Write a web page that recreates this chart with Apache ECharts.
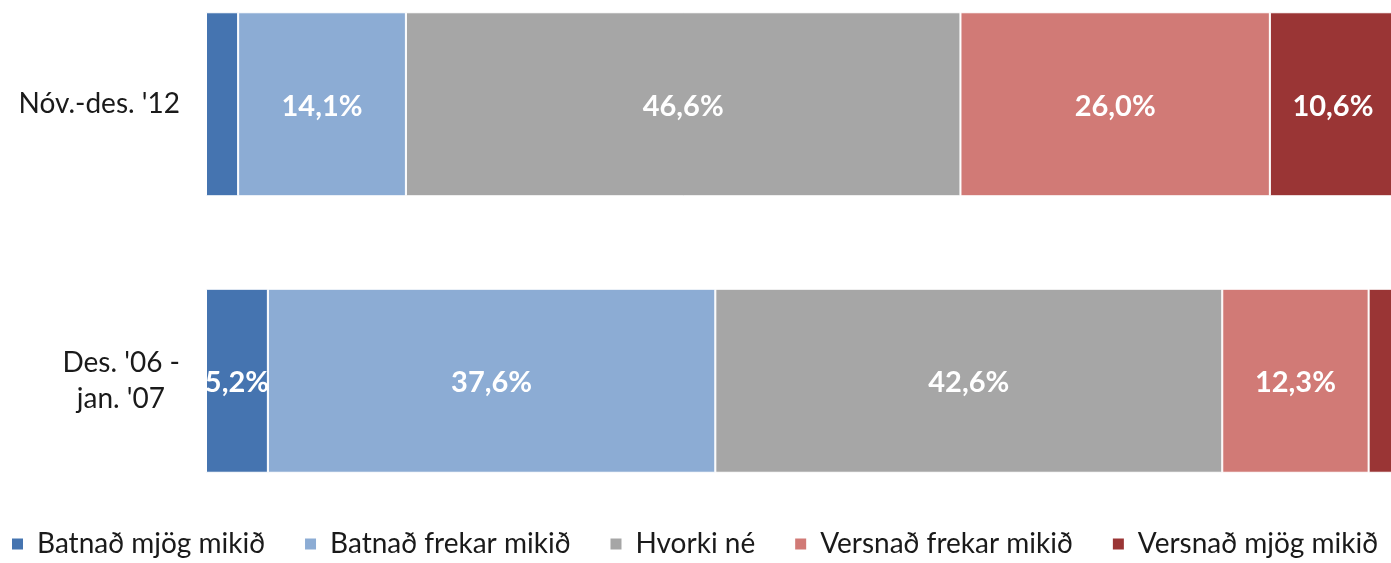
<!DOCTYPE html>
<html>
<head>
<meta charset="utf-8">
<script src="https://cdn.jsdelivr.net/npm/echarts@6/dist/echarts.min.js"></script>
<style>
  html, body { margin: 0; padding: 0; background: #fff; }
  #chart { width: 1391px; height: 563px; }
</style>
</head>
<body>
<div id="chart"></div>
<script>
// categories, bottom to top (category axis on y runs upward)
var categories = ["Des. '06 - jan. '07", "Nóv.-des. '12"];

var seriesNames = ['Batnað mjög mikið', 'Batnað frekar mikið', 'Hvorki né', 'Versnað frekar mikið', 'Versnað mjög mikið'];
var batnadMjog = [5.2, 2.7];
var batnadFrekar = [37.6, 14.1];
var hvorki = [42.6, 46.6];
var versnadFrekar = [12.3, 26.0];
var versnadMjog = [2.3, 10.6];

var colors = ['#4574b0', '#8cacd4', '#a6a6a6', '#d17a76', '#9a3535'];

var chart = echarts.init(document.getElementById('chart'));

function makeSeries(name, data) {
    return {
        name: name,
        type: 'bar',
        stack: 'total',
        barWidth: 184,
        data: data,
        itemStyle: { borderColor: '#ffffff', borderWidth: 1 },
        label: {
            show: true,
            position: 'inside',
            offset: [0, 2],
            color: '#ffffff',
            fontFamily: 'Lato',
            fontWeight: 'bold',
            fontSize: 29,
            formatter: function (p) {
                if (p.value < 5) return '';
                return p.value.toFixed(1).replace('.', ',') + '%';
            }
        }
    };
}

var option = {
    color: colors,
    animation: false,
    grid: { left: 206, right: -5, top: -34, bottom: 44, outerBoundsMode: 'none' },
    xAxis: {
        type: 'value',
        min: 0,
        max: 100,
        show: false
    },
    yAxis: {
        type: 'category',
        data: categories,
        axisLine: { show: false },
        axisTick: { show: false },
        axisLabel: {
            color: '#1a1a1a',
            fontFamily: 'Lato',
            fontSize: 28,
            margin: 26,
            align: 'right',
            formatter: function (v) {
                if (v.indexOf(' - ') > 0) {
                    var parts = v.split(' - ');
                    return '{a|' + parts[0] + ' -}\n{b|' + parts[1] + '}';
                }
                return '{a|' + v + '}';
            },
            rich: {
                a: { fontFamily: 'Lato', fontSize: 28, color: '#1a1a1a', lineHeight: 36 },
                b: { fontFamily: 'Lato', fontSize: 28, color: '#1a1a1a', lineHeight: 36, padding: [0, 15, 0, 0] }
            }
        }
    },
    legend: {
        bottom: 5,
        left: 10,
        right: 0,
        padding: 0,
        itemWidth: 13,
        itemHeight: 13,
        itemGap: 38,
        icon: 'rect',
        textStyle: { fontFamily: 'Lato', fontSize: 28, color: '#1a1a1a', padding: [0, 0, 0, 8] },
        data: seriesNames
    },
    series: [
        makeSeries(seriesNames[0], batnadMjog),
        makeSeries(seriesNames[1], batnadFrekar),
        makeSeries(seriesNames[2], hvorki),
        makeSeries(seriesNames[3], versnadFrekar),
        makeSeries(seriesNames[4], versnadMjog)
    ]
};

chart.setOption(option);
</script>
</body>
</html>
